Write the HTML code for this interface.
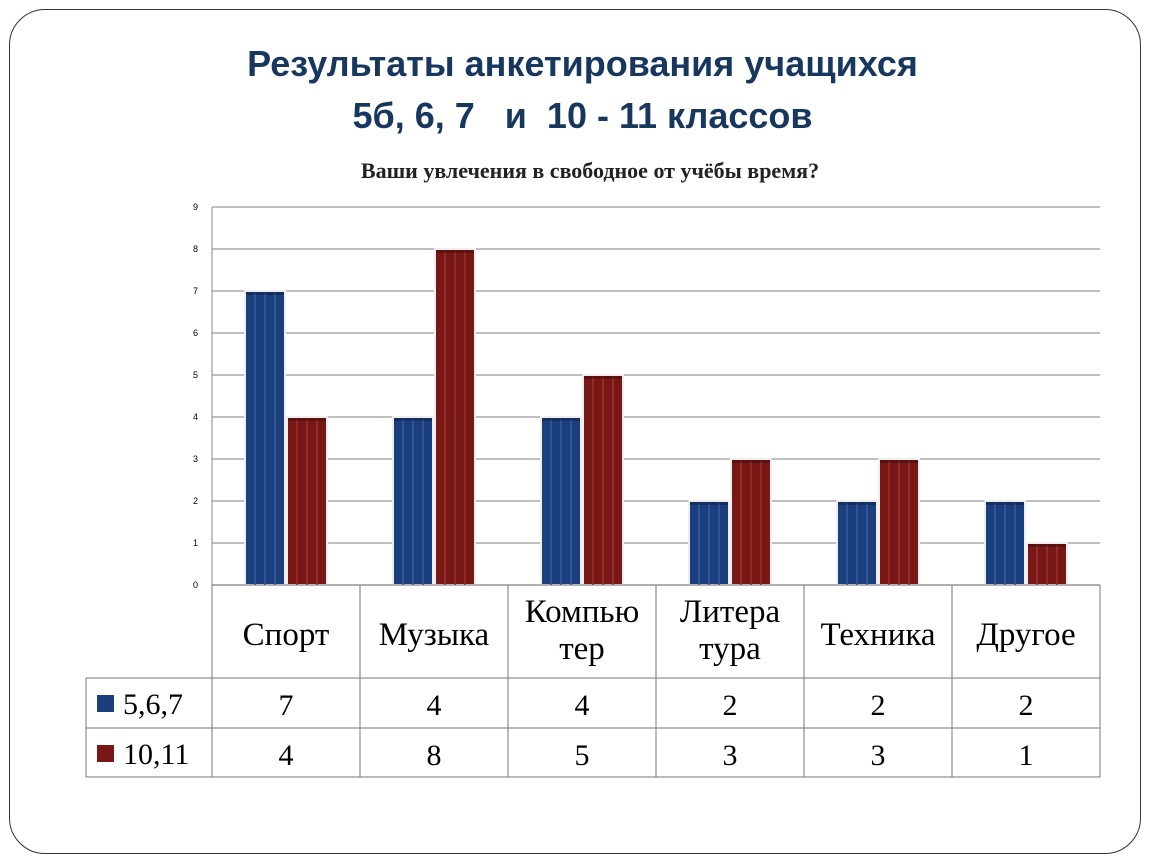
<!DOCTYPE html>
<html><head><meta charset="utf-8"><style>
body{margin:0;background:#fff;width:1150px;height:864px;overflow:hidden;font-family:"Liberation Sans",sans-serif}
#frame{position:absolute;left:9px;top:9px;width:1132px;height:845px;border:1.5px solid #333;border-radius:36px;box-sizing:border-box}
#title{position:absolute;left:0;width:1165px;top:38px;text-align:center;color:#17375e;font-weight:bold;font-size:36px;line-height:52px}
#sub{position:absolute;left:0;width:1180px;top:158px;text-align:center;font-family:"Liberation Serif",serif;font-weight:bold;font-size:22px;color:#222}
</style></head><body>
<div id="frame"></div>
<div id="title">Результаты анкетирования учащихся<br>5б, 6, 7 &nbsp; и &nbsp;10 - 11 классов</div>
<div id="sub">Ваши увлечения в свободное от учёбы время?</div>
<svg id="chart" width="1150" height="864" style="position:absolute;left:0;top:0"></svg>
<script>
const categories=["Спорт","Музыка","Компью\nтер","Литера\nтура","Техника","Другое"];
const series1=[7,4,4,2,2,2];
const series2=[4,8,5,3,3,1];
const seriesNames=["5,6,7","10,11"];
const yTicks=[0,1,2,3,4,5,6,7,8,9];
const NS="http://www.w3.org/2000/svg";
const svg=document.getElementById('chart');
const X0=212,X1=1100,Y0=585,YT=207,YMAX=9;
const cw=(X1-X0)/categories.length;
const y=v=>Y0-(Y0-YT)*v/YMAX;
const xc=i=>X0+i*cw;
function mk(t,a){const e=document.createElementNS(NS,t);for(const k in a)e.setAttribute(k,a[k]);svg.appendChild(e);return e;}
yTicks.forEach(t=>{
 const l=mk('line',{x1:X0,x2:X1,y1:y(t),y2:y(t),stroke:'#999','stroke-width':1.2});
 
 
 const tx=mk('text',{x:198,y:y(t)+3,'font-size':9,'text-anchor':'end','font-family':'Liberation Sans'});tx.textContent=t;
 
 
});
mk('line',{x1:X0,x2:X0,y1:YT,y2:Y0,stroke:'#888'});
const cols=[['#1b3f7c','#2d5496'],['#781816','#932a26']];
[series1,series2].forEach((s,si)=>{
 s.forEach((v,i)=>{
  const bx=xc(i)+33+si*42;
  const r=mk('rect',{x:bx,y:y(v),width:40,height:Y0-y(v),fill:cols[si][0],stroke:'#f0eef0','stroke-width':2});
  
  
  for(let k=1;k<4;k++){mk('line',{x1:bx+k*10,x2:bx+k*10,y1:y(v)+2,y2:Y0,stroke:cols[si][1],'stroke-width':2});}
  mk('rect',{x:bx+1,y:y(v)+1,width:38,height:3,fill:'rgba(0,0,0,0.25)'});
 });
});
// table
const g='#777';
const R1=678,R2=728,R3=777,TL=86;
mk('line',{x1:X0,x2:X1,y1:Y0,y2:Y0,stroke:g});
[R1,R2,R3].forEach(yy=>mk('line',{x1:TL,x2:X1,y1:yy,y2:yy,stroke:g}));
mk('line',{x1:TL,x2:TL,y1:R1,y2:R3,stroke:g});
for(let i=0;i<=categories.length;i++)mk('line',{x1:xc(i),x2:xc(i),y1:Y0,y2:R3,stroke:g});
categories.forEach((c,i)=>{
 const lines=c.split('\n');
 const t=mk('text',{x:xc(i)+cw/2,'font-size':33,'text-anchor':'middle','font-family':'Liberation Serif'});
 
 
 lines.forEach((ln,k)=>{const ts=document.createElementNS(NS,'tspan');ts.setAttribute('x',xc(i)+cw/2);ts.setAttribute('y',lines.length==1?645:622+k*37);ts.textContent=ln;t.appendChild(ts);});
 [series1,series2].forEach((s,si)=>{
  const v=mk('text',{x:xc(i)+cw/2,y:(si?R2:R1)+37,'font-size':30,'text-anchor':'middle','font-family':'Liberation Serif'});v.textContent=s[i];
  
  
 });
});
seriesNames.forEach((n,si)=>{
 const yy=si?R2:R1;
 const k=mk('rect',{x:97,y:yy+17,width:17,height:17,fill:cols[si][0]});
 
 
 const t=mk('text',{x:123,y:yy+36,'font-size':30,'font-family':'Liberation Serif'});t.textContent=n;
 
 
});
</script>
</body></html>
